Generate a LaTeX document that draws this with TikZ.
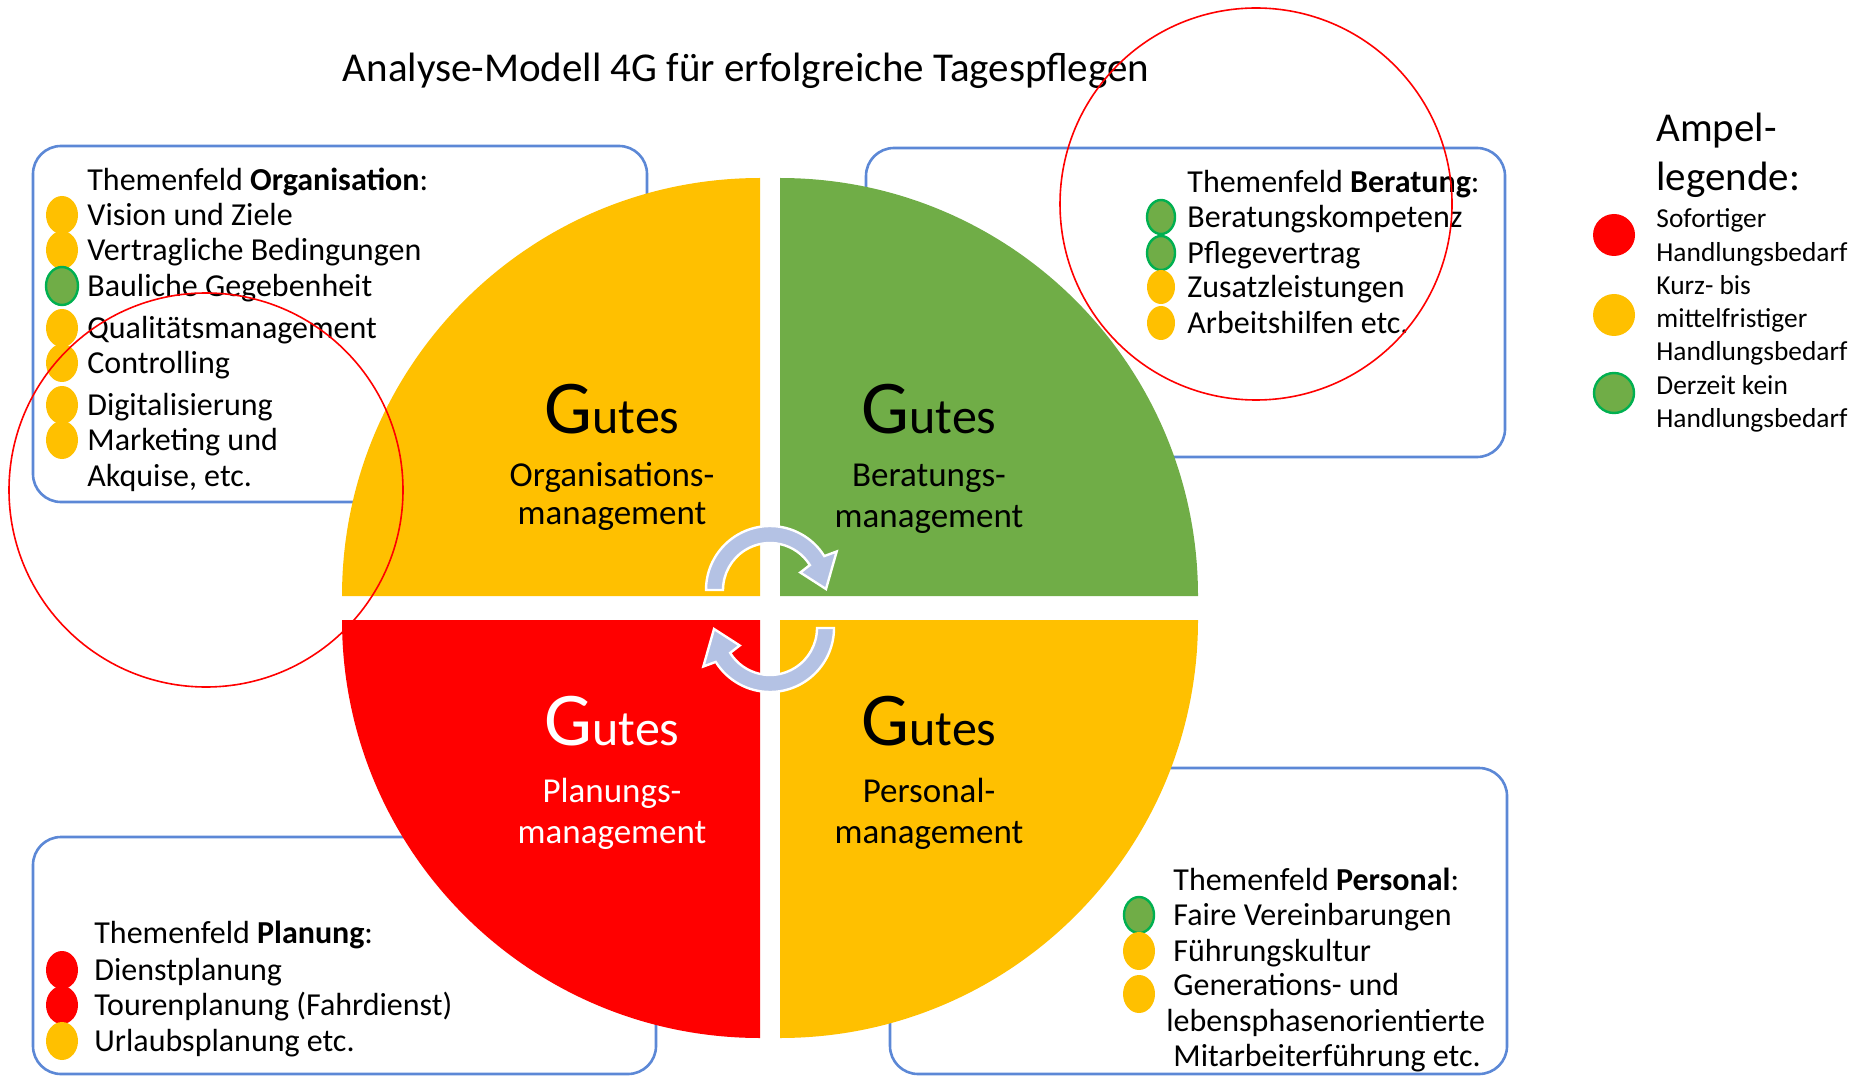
\documentclass[tikz,border=0pt]{standalone}
\usepackage{fontspec}
\setmainfont{Carlito}
\usetikzlibrary{positioning}

\definecolor{ampelrot}{HTML}{FF0000}
\definecolor{ampelgelb}{HTML}{FFC000}
\definecolor{ampelgruen}{HTML}{70AD47}
\definecolor{gruenrand}{HTML}{00B050}
\definecolor{rahmen}{RGB}{92,136,214}
\definecolor{pfeil}{HTML}{B4C2E4}

\tikzset{
  eintrag/.style={anchor=west, inner sep=0pt, yshift=-2.5pt, font=\fontsize{16}{19}\selectfont, text height=0.72em, text depth=0.2em},
  legtext/.style={anchor=west, inner sep=0pt, yshift=-2pt, font=\fontsize{13.7}{16}\selectfont, text height=0.72em, text depth=0.2em},
  rahmenbox/.style={draw=rahmen, line width=1.3pt, rounded corners=14pt},
  rot/.style={fill=ampelrot},
  gelb/.style={fill=ampelgelb},
  gruen/.style={fill=ampelgruen, draw=gruenrand, line width=1.2pt},
  quartlabel/.style={anchor=base, inner sep=0pt, font=\fontsize{17.5}{20}\selectfont},
  kreispfeil/.style={fill=pfeil, draw=white, line width=1.2pt},
  markierung/.style={draw=red, line width=0.8pt},
}
\newcommand{\gutes}{{\fontsize{38}{40}\selectfont G}{\fontsize{25}{27}\selectfont utes}}

\begin{document}
\begin{tikzpicture}[x=0.5pt, y=0.5pt]
    \useasboundingbox (0,0) rectangle (1861,1078);

    % Rahmen der Themenfelder
    \draw[rahmenbox] (33,576) rectangle (647,932);
    \draw[rahmenbox] (866,621) rectangle (1505,930);
    \draw[rahmenbox] (33,4) rectangle (656,241);
    \draw[rahmenbox] (890,4) rectangle (1507,310);

    % Kreis in vier Vierteln
    \fill[ampelgelb] (760,482) -- (342,482) arc (180:90:418) -- cycle;
    \fill[ampelgruen] (780,482) -- (780,900) arc (90:0:418) -- cycle;
    \fill[ampelrot] (760,458) -- (760,40) arc (270:180:418) -- cycle;
    \fill[ampelgelb] (780,458) -- (1198,458) arc (0:-90:418) -- cycle;

    % Kreispfeile
    \begin{scope}[shift={(770,488)}]
        \path[kreispfeil] (180:64) arc (180:32:64) -- (30:77) -- (1:56) -- (30:35) -- (32:47) arc (32:180:47) -- cycle;
    \end{scope}
    \begin{scope}[shift={(770,450)}, rotate=180]
        \path[kreispfeil] (180:64) arc (180:32:64) -- (30:77) -- (1:56) -- (30:35) -- (32:47) arc (32:180:47) -- cycle;
    \end{scope}

    % Beschriftung der Viertel
    \node[quartlabel] (gOrg) at (612,645) {\gutes};
    \node[quartlabel] (lOrg1) at (612,592) {Organisations-};
    \node[quartlabel] (lOrg2) at (612,554) {management};
    \node[quartlabel] (gBer) at (929,645) {\gutes};
    \node[quartlabel] (lBer1) at (929,592) {Beratungs-};
    \node[quartlabel] (lBer2) at (929,551) {management};
    \node[quartlabel, text=white] (gPla) at (612,333) {\gutes};
    \node[quartlabel, text=white] (lPla1) at (612,276) {Planungs-};
    \node[quartlabel, text=white] (lPla2) at (612,235) {management};
    \node[quartlabel] (gPer) at (929,333) {\gutes};
    \node[quartlabel] (lPer1) at (929,276) {Personal-};
    \node[quartlabel] (lPer2) at (929,235) {management};

    % Titel
    \node[font=\fontsize{20.5}{24}\selectfont] (titel) at (746,1007) {Analyse-Modell 4G für erfolgreiche Tagespflegen};

    % Themenfeld Organisation
    \node[eintrag] (org0) at (87,898) {Themenfeld \textbf{Organisation}:};
    \foreach \txt/\farbe/\y [count=\i] in {Vision und Ziele/gelb/863, Vertragliche Bedingungen/gelb/828,
        Bauliche Gegebenheit/gruen/792, Qualitätsmanagement/gelb/750, Controlling/gelb/715,
        Digitalisierung/gelb/673, Marketing und/gelb/638}
    {
        \path[\farbe] (62,\y) ellipse (16 and 19);
        \node[eintrag] (org\i) at (87,\y) {\txt};
    }
    \node[eintrag] (org8) at (87,602) {Akquise, etc.};

    % Themenfeld Beratung
    \node[eintrag] (ber0) at (1187,896) {Themenfeld \textbf{Beratung}:};
    \foreach \txt/\farbe/\y [count=\i] in {Beratungskompetenz/gruen/861, Pflegevertrag/gruen/825,
        Zusatzleistungen/gelb/791, Arbeitshilfen etc./gelb/755}
    {
        \path[\farbe] (1161,\y) ellipse (14 and 17);
        \node[eintrag] (ber\i) at (1187,\y) {\txt};
    }

    % Themenfeld Planung
    \node[eintrag] (pla0) at (94,145) {Themenfeld \textbf{Planung}:};
    \foreach \txt/\farbe/\y [count=\i] in {Dienstplanung/rot/108, Tourenplanung (Fahrdienst)/rot/73,
        Urlaubsplanung etc./gelb/37}
    {
        \path[\farbe] (62,\y) ellipse (16 and 19);
        \node[eintrag] (pla\i) at (94,\y) {\txt};
    }

    % Themenfeld Personal
    \node[eintrag] (per0) at (1173,198) {Themenfeld \textbf{Personal}:};
    \path[gruen] (1139,163) ellipse (15 and 18);
    \path[gelb] (1139,127) ellipse (16 and 19);
    \path[gelb] (1139,84) ellipse (16 and 19);
    \node[eintrag] (per1) at (1173,163) {Faire Vereinbarungen};
    \node[eintrag] (per2) at (1173,127) {Führungskultur};
    \node[eintrag] (per3) at (1173,93) {Generations- und};
    \node[eintrag] (per4) at (1166,57) {lebensphasenorientierte};
    \node[eintrag] (per5) at (1173,22) {Mitarbeiterführung etc.};

    % Ampellegende
    \node[anchor=west, inner sep=0pt, font=\fontsize{20.5}{24}\selectfont] (amp1) at (1656,947) {Ampel-};
    \node[anchor=west, inner sep=0pt, font=\fontsize{20.5}{24}\selectfont] (amp2) at (1656,898) {legende:};
    \path[rot] (1614,843) circle (21);
    \path[gelb] (1614,763) circle (21);
    \path[gruen] (1614,685) circle (20);
    \node[legtext] (leg1) at (1656,860) {Sofortiger};
    \node[legtext] (leg2) at (1656,826) {Handlungsbedarf};
    \node[legtext] (leg3) at (1656,793) {Kurz- bis};
    \node[legtext] (leg4) at (1656,760) {mittelfristiger};
    \node[legtext] (leg5) at (1656,727) {Handlungsbedarf};
    \node[legtext] (leg6) at (1656,693) {Derzeit kein};
    \node[legtext] (leg7) at (1656,660) {Handlungsbedarf};

    % rote Markierungen
    \draw[markierung] (1256,874) circle (196);
    \draw[markierung] (206,588) circle (197);
\end{tikzpicture}
\end{document}
